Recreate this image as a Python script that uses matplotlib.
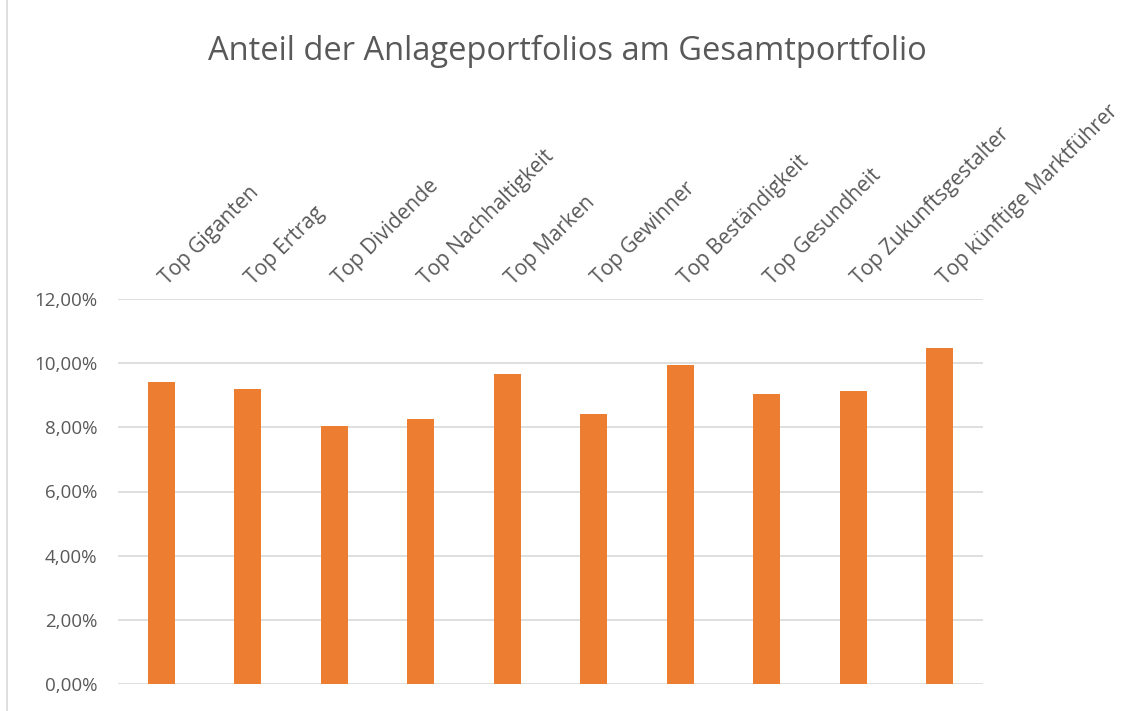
import matplotlib.pyplot as plt
from matplotlib.lines import Line2D
from matplotlib.ticker import FuncFormatter
from matplotlib.transforms import ScaledTranslation

categories = ['Top Giganten', 'Top Ertrag', 'Top Dividende', 'Top Nachhaltigkeit',
              'Top Marken', 'Top Gewinner', 'Top Beständigkeit', 'Top Gesundheit',
              'Top Zukunftsgestalter', 'Top künftige Marktführer']
shares = [0.0940, 0.0921, 0.0803, 0.0825, 0.0965, 0.0841, 0.0995, 0.0905, 0.0914, 0.1048]
y_ticks = [0.0, 0.02, 0.04, 0.06, 0.08, 0.10, 0.12]

TEXT = '#595959'
plt.rcParams['font.family'] = ['Open Sans', 'DejaVu Sans']

def main():
    fig = plt.figure(figsize=(11.28, 7.11), dpi=100)
    ax = fig.add_axes([118 / 1128, 1 - 684 / 711, 865 / 1128, 385 / 711])

    x = range(len(categories))
    ax.bar(x, shares, width=0.31, color='#ED7D31', zorder=3)

    ax.set_xlim(-0.5, len(categories) - 0.5)
    ax.set_ylim(0, 0.12)
    ax.set_yticks(y_ticks)
    ax.yaxis.set_major_formatter(FuncFormatter(lambda v, p: f'{v * 100:.2f}%'.replace('.', ',')))
    ax.grid(axis='y', color='#d9d9d9', linewidth=1.2, zorder=0)
    for s in ax.spines.values():
        s.set_visible(False)
    ax.tick_params(axis='y', length=0, pad=15, labelsize=13.5, labelcolor=TEXT)

    ax.xaxis.tick_top()
    ax.set_xticks(list(x))
    ax.set_xticklabels(categories, rotation=45, ha='left', va='baseline',
                       rotation_mode='anchor', fontsize=15, color=TEXT)
    ax.tick_params(axis='x', length=0, pad=10)
    # nudge the slanted labels a few pixels to the right
    shift = ScaledTranslation(6 / 100, 0, fig.dpi_scale_trans)
    for lbl in ax.get_xticklabels():
        lbl.set_transform(lbl.get_transform() + shift)

    fig.text(0.503, 0.928, 'Anteil der Anlageportfolios am Gesamtportfolio',
             ha='center', va='center', fontsize=23.5, color=TEXT)

    fig.add_artist(Line2D([7 / 1128, 7 / 1128], [0, 1], color='#d9d9d9', linewidth=1.2))

    fig.savefig('out.png', dpi=100, facecolor='white')

if __name__ == '__main__':
    main()
